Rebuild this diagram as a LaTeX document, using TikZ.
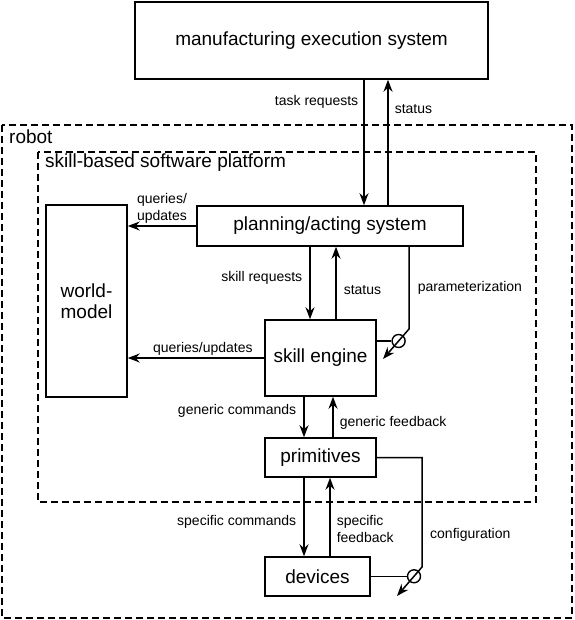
\documentclass[tikz,border=0pt]{standalone}
\usepackage{fontspec}
\setmainfont{Liberation Sans}
\usetikzlibrary{arrows.meta,calc}
\tikzset{
  blk/.style={draw, line width=1.5pt, inner sep=0pt, align=center, font=\fontsize{19}{21}\selectfont},
  lbl/.style={font=\fontsize{14}{17}\selectfont, inner sep=2pt},
  flow/.style={line width=1.5pt, -{Stealth[length=12pt,width=9pt]}},
  grp/.style={draw, line width=1.3pt, dash pattern=on 7pt off 4pt},
  valve/.style={circle, draw, line width=1.4pt, minimum size=13pt, inner sep=0pt},
}

\begin{document}
\begin{tikzpicture}[x=1pt, y=-1pt]
\useasboundingbox (0,0) rectangle (574,620);
% groups
\draw[grp] (2,125) rectangle (572,618);
\node[anchor=west, inner sep=0pt, font=\fontsize{19}{21}\selectfont] (robotlbl) at (9,137) {robot};
\draw[grp] (38,152) rectangle (536,502);
\node[anchor=west, inner sep=0pt, font=\fontsize{19}{21}\selectfont] (platlbl) at (45,163) {skill-based software platform};

% blocks
\node[blk, minimum width=353pt, minimum height=77pt] (mes) at (311.5,40.5) {manufacturing execution system};
\node[blk, minimum width=266pt, minimum height=40pt] (plan) at (330,226) {planning/acting system};
\node[blk, minimum width=81pt, minimum height=192pt] (world) at (86.5,301) {world-\\model};
\node[blk, minimum width=111pt, minimum height=76pt] (skill) at (320.5,358) {skill engine};
\node[blk, minimum width=111pt, minimum height=39pt] (prim) at (320.5,457.5) {primitives};
\node[blk, minimum width=105pt, minimum height=39pt] (dev) at (317.5,576.5) {devices};

% mes <-> planning
\draw[flow] ([xshift=52.5pt]mes.south) -- node[lbl, pos=.18, left=3pt] {task requests} ([xshift=34pt]plan.north);
\draw[flow] ([xshift=58pt]plan.north) -- node[lbl, pos=.77, right=4pt] {status} ([xshift=76.5pt]mes.south);

% world-model access
\draw[flow] (plan.west) -- node[lbl, above, align=center] {queries/\\updates} (plan.west -| world.east);
\draw[flow] (skill.west) -- node[lbl, pos=.45, above] {queries/updates} (skill.west -| world.east);

% planning <-> skill engine
\draw[flow] ([xshift=-20pt]plan.south) -- node[lbl, pos=.43, left=5pt] {skill requests} ([xshift=-10.5pt]skill.north);
\draw[flow] ([xshift=15.5pt]skill.north) -- node[lbl, pos=.4, right=5pt] {status} ([xshift=6pt]plan.south);

% parameterization
\coordinate (pbend) at (409,329);
\coordinate (ptip) at (383,359);
\draw[flow] ([xshift=79pt]plan.south) -- node[lbl, pos=.5, right=6pt] {parameterization} (pbend) -- (ptip);
\node[valve] (pvalve) at ($(pbend)!.4!(ptip)$) {};
\draw[line width=1.5pt] (skill.east |- pvalve) -- (pvalve);

% skill engine <-> primitives
\draw[flow] ([xshift=-16.5pt]skill.south) -- node[lbl, pos=.36, left=5pt] {generic commands} ([xshift=-16.5pt]prim.north);
\draw[flow] ([xshift=12.5pt]prim.north) -- node[lbl, pos=.36, right=4pt] {generic feedback} ([xshift=12.5pt]skill.south);

% primitives <-> devices
\draw[flow] ([xshift=-16.5pt]prim.south) -- node[lbl, pos=.56, left=5pt] {specific commands} ([xshift=-13.5pt]dev.north);
\draw[flow] ([xshift=12.5pt]dev.north) -- node[lbl, pos=.35, right=4pt, align=left] {specific\\feedback} ([xshift=9.5pt]prim.south);

% configuration
\coordinate (cbend) at (422,567);
\coordinate (ctip) at (397,596);
\draw[flow] (prim.east) -| (cbend) -- (ctip);
\node[lbl, anchor=west] (cfglbl) at (428,535) {configuration};
\node[valve] (cvalve) at ($(cbend)!.32!(ctip)$) {};
\draw[line width=1.5pt] (dev.east |- cvalve) -- (cvalve);
\end{tikzpicture}
\end{document}
